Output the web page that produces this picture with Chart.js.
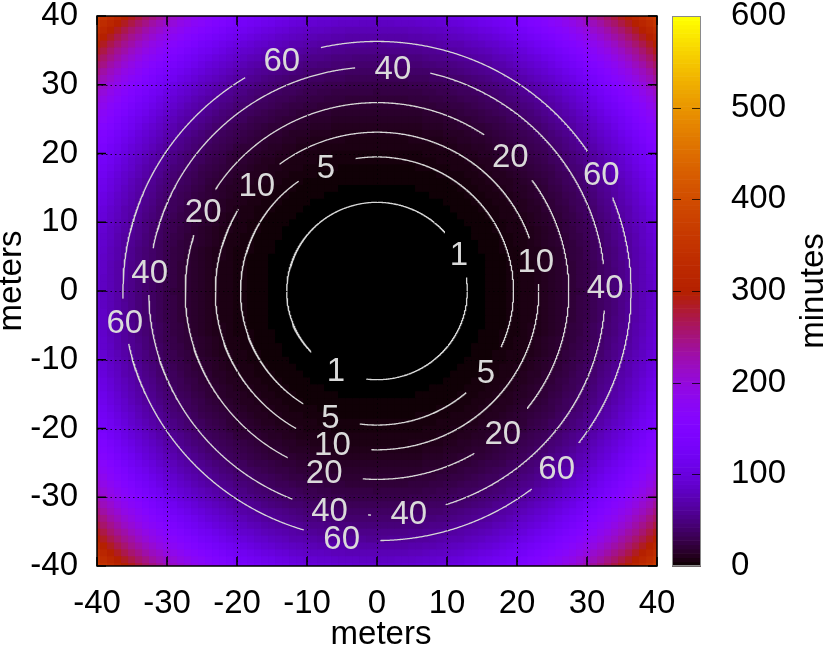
<!DOCTYPE html>
<html>
<head>
<meta charset="utf-8">
<script src="https://cdn.jsdelivr.net/npm/chart.js@4.4.1/dist/chart.umd.min.js"></script>
<style>
  html, body { margin: 0; padding: 0; background: #fff; }
</style>
</head>
<body>
<canvas id="chart" width="830" height="651"></canvas>
<script>
// cell centres, meters (one cell per meter)
const gridCoords = Array.from({ length: 81 }, (_, i) => i - 40);

// radial profile: distance (m) -> minutes
const profileRadius = [0, 2, 4, 6, 8, 10, 12, 14, 16, 18, 20, 22, 24, 26, 28,
  30, 32, 34, 36, 38, 40, 42, 44, 46, 48, 50, 52, 54, 56, 58];
const profileMinutes = [0, 0.0006, 0.009, 0.047, 0.15, 0.36, 0.75, 1.39, 2.37, 3.79,
  5.78, 8.46, 11.98, 16.5, 22.2, 29.25, 37.87, 48.26, 60.65, 75.3, 92.45, 112.4,
  135.3, 161.7, 191.7, 225.7, 264.0, 307.1, 355.1, 408.7];

// contour levels (minutes), their radius (m) and where the labels sit (deg)
const contourLevels = [1, 5, 10, 20, 40, 60];
const contourRadius = [12.9, 19.5, 23.1, 27.4, 32.6, 36.3];
const contourLabelAngles = [
  [25, -117],
  [112, -37, -110],
  [138, 11, -106],
  [46, 155, -49, -106],
  [86, 175, 1, -102, -82],
  [112, 28, 187, -45, -98]
];

const axisMin = -40, axisMax = 40, axisStep = 10;
const cbMin = 0, cbMax = 600, cbStep = 100;

const FONT = "'Liberation Sans', Arial, sans-serif";
const FONT_SIZE = 33;
const LINE_COLOR = "rgb(215,215,215)";
const LABEL_COLOR = "rgb(218,218,218)";

function minutesAt(r) {
  for (let i = 1; i < profileRadius.length; i++) {
    if (r <= profileRadius[i]) {
      const t = (r - profileRadius[i - 1]) / (profileRadius[i] - profileRadius[i - 1]);
      return profileMinutes[i - 1] + t * (profileMinutes[i] - profileMinutes[i - 1]);
    }
  }
  return profileMinutes[profileMinutes.length - 1];
}

// gnuplot default palette (rgbformulae 7,5,15), 256 levels
function paletteColor(v) {
  const f = Math.max(0, Math.min(1, (v - cbMin) / (cbMax - cbMin)));
  const q = Math.min(255, Math.floor(f * 256)) / 255;
  const r = Math.sqrt(q);
  const g = q * q * q;
  const b = Math.max(0, Math.sin(2 * Math.PI * q));
  return `rgb(${Math.round(r * 255)},${Math.round(g * 255)},${Math.round(b * 255)})`;
}

// heatmap cells
const cellPoints = [];
const cellColors = [];
gridCoords.forEach((gy) => {
  gridCoords.forEach((gx) => {
    cellPoints.push({ x: gx, y: gy });
    cellColors.push(paletteColor(minutesAt(Math.hypot(gx, gy))));
  });
});

// contour arcs, broken where the labels go
function contourArcs(radius, angles, level) {
  const pxPerUnit = 7;
  const hw = String(level).length * 0.556 * FONT_SIZE / 2 + 19;
  const hh = 23;
  const gaps = angles.map((a) => {
    const th = a * Math.PI / 180;
    const tang = th + Math.PI / 2;
    const t = Math.min(hw / Math.abs(Math.cos(tang)), hh / Math.abs(Math.sin(tang)));
    return { th, half: t / (radius * pxPerUnit) };
  });
  const N = 1440;
  const segs = [];
  let cur = null;
  for (let k = 0; k <= N; k++) {
    const th = (k / N) * 2 * Math.PI;
    const inGap = gaps.some((g) => {
      const d = Math.abs((((th - g.th) % (2 * Math.PI)) + 3 * Math.PI) % (2 * Math.PI) - Math.PI);
      return d < g.half;
    });
    if (inGap) {
      if (cur) { segs.push(cur); cur = null; }
    } else {
      if (!cur) cur = { start: k, pts: [] };
      cur.pts.push({ x: radius * Math.cos(th), y: radius * Math.sin(th) });
    }
  }
  if (cur) {
    if (segs.length && segs[0].start === 0) {
      segs[0].pts = cur.pts.concat(segs[0].pts.slice(1));
    } else {
      segs.push(cur);
    }
  }
  return segs.map((s) => s.pts);
}

const datasets = [{
  label: "minutes",
  data: cellPoints,
  pointStyle: "rect",
  pointRadius: 5.6,
  pointHoverRadius: 5.6,
  pointBorderWidth: 0,
  pointBackgroundColor: cellColors,
  clip: 0,
  order: 1
}];

contourLevels.forEach((lvl, i) => {
  contourArcs(contourRadius[i], contourLabelAngles[i], lvl).forEach((pts) => {
    datasets.push({
      label: "contour " + lvl,
      data: pts,
      showLine: true,
      pointRadius: 0,
      borderColor: LINE_COLOR,
      borderWidth: 1.3,
      tension: 0,
      order: 0
    });
  });
});

const overlay = {
  id: "overlay",
  afterDatasetsDraw(chart) {
    const { ctx, chartArea: a, scales } = chart;
    const { x, y, cb } = scales;
    ctx.save();

    // dotted grid on top of the image
    ctx.strokeStyle = "rgba(0,0,0,0.8)";
    ctx.lineWidth = 1;
    ctx.setLineDash([1.5, 3]);
    x.ticks.forEach((t) => {
      if (t.value <= axisMin || t.value >= axisMax) return;
      const px = Math.round(x.getPixelForValue(t.value)) + 0.5;
      ctx.beginPath(); ctx.moveTo(px, a.top); ctx.lineTo(px, a.bottom); ctx.stroke();
    });
    y.ticks.forEach((t) => {
      if (t.value <= axisMin || t.value >= axisMax) return;
      const py = Math.round(y.getPixelForValue(t.value)) + 0.5;
      ctx.beginPath(); ctx.moveTo(a.left, py); ctx.lineTo(a.right, py); ctx.stroke();
    });
    ctx.setLineDash([]);

    // contour labels
    ctx.font = `${FONT_SIZE}px ${FONT}`;
    ctx.fillStyle = LABEL_COLOR;
    ctx.textAlign = "center";
    ctx.textBaseline = "middle";
    contourLevels.forEach((lvl, i) => {
      contourLabelAngles[i].forEach((deg) => {
        const th = deg * Math.PI / 180;
        const px = x.getPixelForValue(contourRadius[i] * Math.cos(th));
        const py = y.getPixelForValue(contourRadius[i] * Math.sin(th));
        ctx.fillText(String(lvl), px, py + 2);
      });
    });

    // border and inward tick marks
    ctx.strokeStyle = "#000";
    ctx.lineWidth = 1.5;
    ctx.strokeRect(a.left, a.top, a.right - a.left, a.bottom - a.top);
    const tl = 9;
    x.ticks.forEach((t) => {
      const px = x.getPixelForValue(t.value);
      ctx.beginPath();
      ctx.moveTo(px, a.bottom); ctx.lineTo(px, a.bottom - tl);
      ctx.moveTo(px, a.top); ctx.lineTo(px, a.top + tl);
      ctx.stroke();
    });
    y.ticks.forEach((t) => {
      const py = y.getPixelForValue(t.value);
      ctx.beginPath();
      ctx.moveTo(a.left, py); ctx.lineTo(a.left + tl, py);
      ctx.moveTo(a.right, py); ctx.lineTo(a.right - tl, py);
      ctx.stroke();
    });

    // colour box
    const bx0 = 672, bx1 = 701;
    const bands = 128;
    for (let i = 0; i < bands; i++) {
      const v0 = cbMin + (cbMax - cbMin) * i / bands;
      const v1 = cbMin + (cbMax - cbMin) * (i + 1) / bands;
      const p0 = cb.getPixelForValue(v0);
      const p1 = cb.getPixelForValue(v1);
      ctx.fillStyle = paletteColor((v0 + v1) / 2);
      ctx.fillRect(bx0, p1, bx1 - bx0, p0 - p1 + 0.6);
    }
    ctx.strokeStyle = "rgba(0,0,0,0.75)";
    ctx.lineWidth = 1;
    cb.ticks.forEach((t) => {
      if (t.value <= cbMin || t.value >= cbMax) return;
      const py = Math.round(cb.getPixelForValue(t.value)) + 0.5;
      ctx.beginPath();
      ctx.moveTo(bx0, py); ctx.lineTo(bx0 + 9, py);
      ctx.moveTo(bx1, py); ctx.lineTo(bx1 - 9, py);
      ctx.stroke();
    });
    ctx.strokeStyle = "#8a8a8a";
    ctx.strokeRect(bx0 + 0.5, cb.getPixelForValue(cbMax) + 0.5, bx1 - bx0 - 1,
      cb.getPixelForValue(cbMin) - cb.getPixelForValue(cbMax) - 1);

    // axis titles
    ctx.fillStyle = "#000";
    ctx.font = `${FONT_SIZE}px ${FONT}`;
    ctx.textAlign = "center";
    ctx.textBaseline = "middle";
    ctx.fillText("meters", 381, 635);
    ctx.save();
    ctx.translate(12, 281);
    ctx.rotate(-Math.PI / 2);
    ctx.fillText("meters", 0, 0);
    ctx.restore();
    ctx.save();
    ctx.translate(814, 291);
    ctx.rotate(-Math.PI / 2);
    ctx.fillText("minutes", 0, 0);
    ctx.restore();

    ctx.restore();
  }
};

const tickFont = { family: FONT, size: FONT_SIZE };

new Chart(document.getElementById("chart"), {
  type: "scatter",
  data: { datasets },
  options: {
    responsive: false,
    animation: false,
    events: [],
    layout: { padding: { top: 16, left: 0, right: 0, bottom: 0 } },
    plugins: { legend: { display: false }, tooltip: { enabled: false } },
    scales: {
      x: {
        type: "linear", position: "bottom", min: axisMin, max: axisMax,
        ticks: { stepSize: axisStep, font: tickFont, color: "#000", padding: 18, maxRotation: 0, autoSkip: false },
        grid: { display: false, drawTicks: false },
        border: { display: false },
        afterFit: (s) => { s.height = 85; s.paddingLeft = 0; s.paddingRight = 0; }
      },
      y: {
        type: "linear", position: "left", min: axisMin, max: axisMax,
        ticks: { stepSize: axisStep, font: tickFont, color: "#000", padding: 19, autoSkip: false },
        grid: { display: false, drawTicks: false },
        border: { display: false },
        afterFit: (s) => { s.width = 97; s.paddingTop = 0; s.paddingBottom = 0; }
      },
      cb: {
        type: "linear", position: "right", min: cbMin, max: cbMax,
        ticks: { stepSize: cbStep, font: tickFont, color: "#000", padding: 74, autoSkip: false },
        grid: { display: false, drawTicks: false },
        border: { display: false },
        afterFit: (s) => { s.width = 173; s.paddingTop = 0; s.paddingBottom = 0; }
      }
    }
  },
  plugins: [overlay]
});
</script>
</body>
</html>
